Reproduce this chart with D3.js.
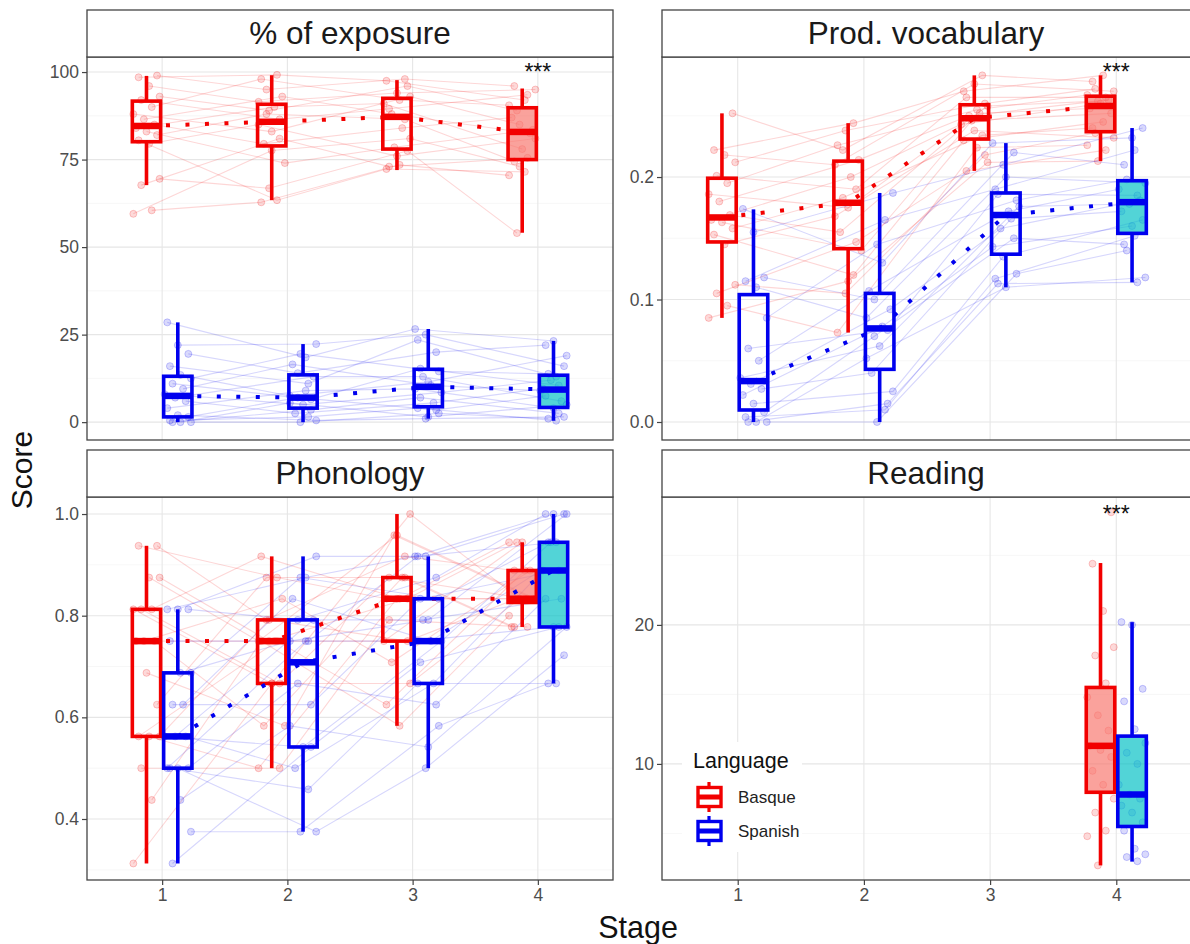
<!DOCTYPE html>
<html><head><meta charset="utf-8">
<script src="https://cdn.jsdelivr.net/npm/d3@7"></script>
<style>body{margin:0;background:#fff}text{font-family:"Liberation Sans",Arial,Helvetica,sans-serif}</style>
</head><body>
<svg id="c" width="1190" height="944"></svg>
<script>
// ---------------- DATA ----------------
const stages = [1, 2, 3, 4];
const languages = ["Basque", "Spanish"];
const panelTitles = ["% of exposure", "Prod. vocabulary", "Phonology", "Reading"];
const tickExposure = [0, 25, 50, 75, 100];
const tickVocab = [0.0, 0.1, 0.2];
const tickPhon = [0.4, 0.6, 0.8, 1.0];
const tickReading = [10, 20];
const stageTickLabels = ["1", "2", "3", "4"];

// box stats per stage: [lower whisker, q1, median, q3, upper whisker]
const exposureBasqueBox = [[67.7, 80.1, 84.6, 91.7, 98.9], [63.4, 78.9, 85.8, 90.8, 99.1], [72.0, 78.0, 87.2, 92.5, 97.7], [54.1, 75.0, 82.9, 89.8, 95.3]];
const exposureSpanishBox = [[0.0, 1.5, 7.5, 13.1, 28.5], [0.0, 4.0, 7.0, 13.5, 22.3], [1.0, 4.4, 10.1, 15.1, 26.6], [0.4, 4.2, 9.3, 13.4, 23.2]];
const vocabBasqueBox = [[0.085, 0.147, 0.167, 0.199, 0.252], [0.073, 0.1415, 0.179, 0.213, 0.244], [0.205, 0.231, 0.248, 0.259, 0.283], [0.213, 0.237, 0.258, 0.266, 0.283]];
const vocabSpanishBox = [[0.0, 0.0098, 0.0334, 0.104, 0.1736], [0.0, 0.043, 0.0764, 0.105, 0.187], [0.11, 0.137, 0.169, 0.187, 0.2277], [0.114, 0.154, 0.1795, 0.197, 0.24]];
const phonBasqueBox = [[0.3125, 0.5625, 0.75, 0.8125, 0.9375], [0.5, 0.6667, 0.75, 0.7917, 0.9167], [0.5833, 0.75, 0.8333, 0.875, 1.0], [0.7778, 0.826, 0.8333, 0.8889, 0.9444]];
const phonSpanishBox = [[0.3125, 0.5, 0.5625, 0.6875, 0.8125], [0.375, 0.5417, 0.7083, 0.7917, 0.9167], [0.5, 0.6667, 0.75, 0.8333, 0.9167], [0.6667, 0.7778, 0.8889, 0.9444, 1.0]];
const readingBasqueBox = [null, null, null, [2.7, 7.96, 11.3, 15.5, 24.45]];
const readingSpanishBox = [null, null, null, [2.97, 5.5, 7.8, 12.0, 20.2]];

// individual children: score at stages 1..4
const exposureBasque = [[59.5,77.6,81,73],[60.5,62.8,73.5,70.5],[67.7,81,73,75.5],[69.5,66.8,77.5,54],[79.5,85,76,81],[80.5,63.4,72.3,71.5],[82,88,86.5,74.5],[83,74,78.5,83.5],[84,90,91,78],[85,79.5,84,87],[86.5,93,88,82.5],[88,83,93,85],[90,98,92,90.5],[92,86.5,89.5,93.5],[93,89,96,89],[96,91.5,94,95],[98.5,99.2,97.5,92],[99,95,98,96]];
const exposureSpanish = [[0,3.5,7,2.5],[0,0,2.5,1],[0,5.5,1.5,5],[0.5,1.5,4,0.4],[1.5,7,3.5,7.5],[2,0.5,1,1.5],[4,9,9.5,4],[6,2.5,5.5,9.6],[7,13,13,6],[8,5,8.5,12],[9.5,16.5,10.5,9],[11,6.5,15.3,10.5],[12.5,19.5,14.5,13.8],[13.5,7.5,11.5,19],[16,11,23.5,13],[19.5,14,20,22],[22,22.3,25,16],[28.5,18.5,26.6,23.2]];
const vocabBasque = [[0.085,0.115,0.212,0.213],[0.095,0.073,0.224,0.226],[0.105,0.147,0.205,0.222],[0.112,0.105,0.218,0.236],[0.145,0.168,0.238,0.232],[0.153,0.12,0.23,0.245],[0.158,0.183,0.234,0.24],[0.163,0.14,0.246,0.252],[0.165,0.2,0.243,0.26],[0.169,0.155,0.252,0.256],[0.18,0.214,0.25,0.263],[0.186,0.175,0.258,0.262],[0.195,0.226,0.255,0.267],[0.201,0.19,0.265,0.265],[0.212,0.238,0.26,0.272],[0.218,0.21,0.276,0.27],[0.222,0.244,0.27,0.283],[0.252,0.222,0.283,0.278]];
const vocabSpanish = [[0,0.015,0.113,0.114],[0,0,0.121,0.14],[0,0.052,0.11,0.118],[0.004,0.01,0.117,0.152],[0.008,0.07,0.15,0.145],[0.015,0.025,0.135,0.165],[0.022,0.078,0.143,0.16],[0.027,0.04,0.166,0.172],[0.031,0.092,0.158,0.181],[0.036,0.062,0.176,0.178],[0.05,0.107,0.172,0.19],[0.06,0.075,0.186,0.185],[0.085,0.145,0.181,0.198],[0.11,0.085,0.2,0.195],[0.115,0.165,0.19,0.222],[0.118,0.1,0.22,0.21],[0.155,0.187,0.21,0.24],[0.174,0.13,0.2277,0.232]];
const phonBasque = [[0.3125,0.6667,0.6667,0.8333],[0.4375,0.75,0.5833,0.8],[0.5,0.5,0.7917,0.7778],[0.5625,0.7917,0.75,0.8333],[0.5625,0.5,0.8333,0.8333],[0.5625,0.75,0.625,0.8889],[0.625,0.875,0.875,0.7778],[0.6875,0.5833,0.9583,0.8333],[0.75,0.75,0.75,0.9444],[0.75,0.5833,0.875,0.7778],[0.75,0.8333,0.7083,0.8889],[0.8125,0.6667,1.0,0.8333],[0.8125,0.9167,0.8333,0.9444],[0.8125,0.6667,0.875,0.8333],[0.875,0.75,0.8333,0.9444],[0.875,0.75,0.9583,0.8333],[0.9375,0.875,0.8333,0.8333],[0.9375,0.7917,0.9167,0.8889]];
const phonSpanish = [[0.3125,0.5417,0.7083,0.7778],[0.375,0.375,0.5833,0.6667],[0.4375,0.5833,0.5417,0.7778],[0.5,0.4583,0.6667,0.6667],[0.5,0.6667,0.625,0.8333],[0.5,0.375,0.5,0.7222],[0.5,0.75,0.75,0.7778],[0.5625,0.5,0.6667,0.8889],[0.5625,0.7917,0.7917,0.8333],[0.5625,0.5417,0.75,0.9444],[0.625,0.8333,0.75,0.8889],[0.625,0.625,0.8333,0.8889],[0.6875,0.875,0.8333,0.9444],[0.6875,0.75,0.7917,1.0],[0.75,0.75,0.9167,0.9444],[0.8125,0.7917,0.875,1.0],[0.8125,0.9167,0.9167,1.0],[0.8125,0.875,0.9167,1.0]];
const readingBasque = [2.7,4.8,5.2,6.5,7.5,8.5,9.5,10.5,11,11.3,12.4,13.5,14.8,15.8,17.8,18.4,21,24.4,28.1];
const readingSpanish = [3,3.3,3.5,3.9,5.2,5.8,6.5,7,7.5,7.8,8.5,10,10.8,11.5,12.5,14.5,15.4,20,20.2];
// significance marks per panel: stage and y value
const signifStage = [4, 4, null, 4];
const signifY = [100.6, 0.287, null, 28.1];

// ---------------- LAYOUT / STYLE ----------------
const W = 1190, H = 944;
const red = "#f20000", blue = "#0000ee";
const fillRed = "#F8766D", fillBlue = "#00BFC4";
const dodge = [-0.125, 0.125];
const FONT = '"Liberation Sans",Arial,sans-serif';
const svg = d3.select("#c");
svg.append("rect").attr("width", W).attr("height", H).attr("fill", "#fff");

const panels = [
  {title: panelTitles[0], x0: 87, x1: 613, y0: 57, y1: 440, yDomain: [-5.1, 104.3], ticks: tickExposure, fmt: d3.format("d"),
   boxes: [exposureBasqueBox, exposureSpanishBox], subj: [exposureBasque, exposureSpanish], bottom: false},
  {title: panelTitles[1], x0: 662, x1: 1192, y0: 57, y1: 440, yDomain: [-0.0147, 0.298], ticks: tickVocab, fmt: d3.format(".1f"),
   boxes: [vocabBasqueBox, vocabSpanishBox], subj: [vocabBasque, vocabSpanish], bottom: false},
  {title: panelTitles[2], x0: 87, x1: 613, y0: 497, y1: 880, yDomain: [0.28, 1.0335], ticks: tickPhon, fmt: d3.format(".1f"),
   boxes: [phonBasqueBox, phonSpanishBox], subj: [phonBasque, phonSpanish], bottom: true},
  {title: panelTitles[3], x0: 662, x1: 1192, y0: 497, y1: 880, yDomain: [1.65, 29.2], ticks: tickReading, fmt: d3.format("d"),
   boxes: [readingBasqueBox, readingSpanishBox], subj: null, reading: [readingBasque, readingSpanish], bottom: true}
];

// deterministic horizontal jitter (position only)
function jit(i, s, l) { return (((i * 7 + s * 5 + l * 3) % 11) - 5) / 5 * 0.105; }

panels.forEach((p, pi) => {
  const g = svg.append("g");
  const x = d3.scaleLinear().domain([0.4, 4.6]).range([p.x0, p.x1]);
  const y = d3.scaleLinear().domain(p.yDomain).range([p.y1, p.y0]);
  const clipId = "clip" + pi;
  svg.append("clipPath").attr("id", clipId).append("rect")
    .attr("x", p.x0).attr("y", p.y0).attr("width", p.x1 - p.x0).attr("height", p.y1 - p.y0);
  const inner = g.append("g").attr("clip-path", `url(#${clipId})`);

  // grid
  const t = p.ticks, step = t[1] - t[0];
  const minor = [];
  for (let k = -1; k < t.length; k++) minor.push(t[0] + step * (k + 0.5));
  inner.selectAll(".mn").data(minor).join("line")
    .attr("x1", p.x0).attr("x2", p.x1).attr("y1", d => y(d)).attr("y2", d => y(d))
    .attr("stroke", "#f4f4f4").attr("stroke-width", 0.7);
  inner.selectAll(".mj").data(t).join("line")
    .attr("x1", p.x0).attr("x2", p.x1).attr("y1", d => y(d)).attr("y2", d => y(d))
    .attr("stroke", "#e6e6e6").attr("stroke-width", 1.1);
  inner.selectAll(".vx").data(stages).join("line")
    .attr("x1", d => x(d)).attr("x2", d => x(d)).attr("y1", p.y0).attr("y2", p.y1)
    .attr("stroke", "#e6e6e6").attr("stroke-width", 1.1);

  const cols = [red, blue];
  // subjects: lines then points
  if (p.subj) {
    p.subj.forEach((rows, l) => {
      const line = d3.line().x(d => x(d.s + dodge[l] + d.j)).y(d => y(d.v));
      rows.forEach((r, i) => {
        const pts = r.map((v, k) => ({s: stages[k], v, j: jit(i, k, l)}));
        inner.append("path").attr("d", line(pts)).attr("fill", "none")
          .attr("stroke", cols[l]).attr("stroke-opacity", 0.16).attr("stroke-width", 1.1);
      });
      rows.forEach((r, i) => {
        r.forEach((v, k) => {
          inner.append("circle").attr("cx", x(stages[k] + dodge[l] + jit(i, k, l))).attr("cy", y(v)).attr("r", 3.5)
            .attr("fill", cols[l]).attr("fill-opacity", 0.15)
            .attr("stroke", cols[l]).attr("stroke-opacity", 0.2).attr("stroke-width", 1);
        });
      });
    });
  }
  if (p.reading) {
    p.reading.forEach((vals, l) => {
      vals.forEach((v, i) => {
        inner.append("circle").attr("cx", x(4 + dodge[l] + jit(i, 3, l))).attr("cy", y(v)).attr("r", 3.5)
          .attr("fill", cols[l]).attr("fill-opacity", 0.15)
          .attr("stroke", cols[l]).attr("stroke-opacity", 0.2).attr("stroke-width", 1);
      });
    });
  }

  // boxes
  const hw = 0.113;
  p.boxes.forEach((bx, l) => {
    bx.forEach((b, k) => {
      if (!b) return;
      const c = stages[k] + dodge[l];
      const xl = x(c - hw), xr = x(c + hw), xc = x(c);
      inner.append("line").attr("x1", xc).attr("x2", xc).attr("y1", y(b[0])).attr("y2", y(b[1]))
        .attr("stroke", cols[l]).attr("stroke-width", 3.6);
      inner.append("line").attr("x1", xc).attr("x2", xc).attr("y1", y(b[3])).attr("y2", y(b[4]))
        .attr("stroke", cols[l]).attr("stroke-width", 3.6);
      const filled = stages[k] === 4;
      inner.append("rect").attr("x", xl).attr("y", y(b[3])).attr("width", xr - xl).attr("height", y(b[1]) - y(b[3]))
        .attr("fill", filled ? (l === 0 ? fillRed : fillBlue) : "none").attr("fill-opacity", 0.68)
        .attr("stroke", cols[l]).attr("stroke-width", 3.6);
      inner.append("line").attr("x1", xl).attr("x2", xr).attr("y1", y(b[2])).attr("y2", y(b[2]))
        .attr("stroke", cols[l]).attr("stroke-width", 6.5);
    });
    // dotted median line
    const med = bx.map((b, k) => b ? {s: stages[k] + dodge[l], v: b[2]} : null).filter(d => d);
    if (med.length > 1) {
      inner.append("path").attr("d", d3.line().x(d => x(d.s)).y(d => y(d.v))(med))
        .attr("fill", "none").attr("stroke", cols[l]).attr("stroke-width", 4).attr("stroke-dasharray", "4 15.5");
    }
  });

  // border
  g.append("rect").attr("x", p.x0).attr("y", p.y0).attr("width", p.x1 - p.x0).attr("height", p.y1 - p.y0)
    .attr("fill", "none").attr("stroke", "#444").attr("stroke-width", 1.3);
  // strip
  g.append("rect").attr("x", p.x0).attr("y", p.y0 - 47).attr("width", p.x1 - p.x0).attr("height", 47)
    .attr("fill", "#fff").attr("stroke", "#444").attr("stroke-width", 1.3);
  const stripCx = (p.x0 + (pi % 2 === 1 ? 1190 : p.x1)) / 2;
  g.append("text").attr("x", stripCx).attr("y", p.y0 - 13).attr("text-anchor", "middle")
    .attr("font-size", 31.5).attr("fill", "#1a1a1a").text(p.title);

  // significance (drawn after strip so it stays visible)
  if (signifStage[pi]) {
    g.append("text").attr("x", x(signifStage[pi])).attr("y", y(signifY[pi]) + 10).attr("text-anchor", "middle")
      .attr("font-size", 23).attr("fill", "#111").text("***");
  }

  // y axis
  const ya = g.append("g").attr("transform", `translate(${p.x0},0)`)
    .call(d3.axisLeft(y).tickValues(p.ticks).tickFormat(p.fmt).tickSize(5).tickPadding(3));
  ya.select(".domain").remove();
  ya.selectAll("line").attr("stroke", "#444").attr("stroke-width", 1.2);
  ya.selectAll("text").attr("font-size", 17.5).attr("fill", "#4d4d4d").attr("font-family", FONT);

  if (p.bottom) {
    const xa = g.append("g").attr("transform", `translate(0,${p.y1})`)
      .call(d3.axisBottom(x).tickValues(stages).tickFormat((d, i) => stageTickLabels[i]).tickSize(5).tickPadding(4));
    xa.select(".domain").remove();
    xa.selectAll("line").attr("stroke", "#444").attr("stroke-width", 1.2);
    xa.selectAll("text").attr("font-size", 17.5).attr("fill", "#4d4d4d").attr("font-family", FONT);
  }
});

// axis titles
svg.append("text").attr("x", 638).attr("y", 938).attr("text-anchor", "middle").attr("font-size", 30.5).attr("fill", "#111").text("Stage");
svg.append("text").attr("transform", "translate(32,470) rotate(-90)").attr("text-anchor", "middle").attr("font-size", 30).attr("fill", "#111").text("Score");

// legend
const lg = svg.append("g");
lg.append("rect").attr("x", 682).attr("y", 742).attr("width", 120).attr("height", 110).attr("fill", "#fff");
lg.append("text").attr("x", 693).attr("y", 768).attr("font-size", 21.5).attr("fill", "#111").text("Language");
languages.forEach((lang, i) => {
  const c = i === 0 ? red : blue;
  const cy = 797 + i * 34;
  lg.append("line").attr("x1", 709).attr("x2", 709).attr("y1", cy - 15).attr("y2", cy + 15).attr("stroke", c).attr("stroke-width", 3.2);
  lg.append("rect").attr("x", 698).attr("y", cy - 9.5).attr("width", 23).attr("height", 19).attr("fill", "#fff").attr("stroke", c).attr("stroke-width", 3.4);
  lg.append("line").attr("x1", 698).attr("x2", 721).attr("y1", cy).attr("y2", cy).attr("stroke", c).attr("stroke-width", 5);
  lg.append("text").attr("x", 738).attr("y", cy + 6).attr("font-size", 17).attr("fill", "#222").text(lang);
});
</script>
</body></html>
